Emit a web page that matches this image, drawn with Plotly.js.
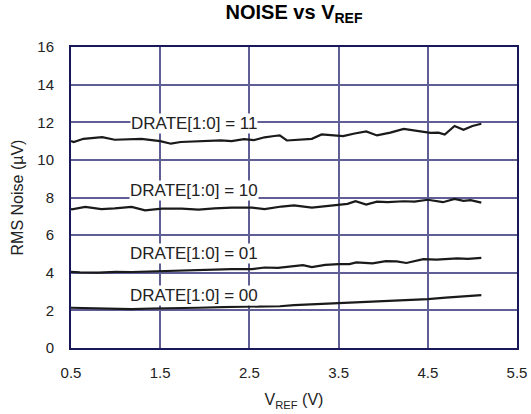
<!DOCTYPE html>
<html>
<head>
<meta charset="utf-8">
<script src="https://cdn.plot.ly/plotly-3.0.1.min.js"></script>
<style>html,body{margin:0;padding:0;background:#fff;}#chart{width:531px;height:414px;}</style>
</head>
<body>
<div id="chart"></div>
<script>
// Series 11
const x11 = [0.5,0.53,0.64,0.75,0.85,0.99,1.15,1.29,1.5,1.62,1.73,1.96,2.18,2.3,2.44,2.55,2.67,2.78,2.84,2.92,3.05,3.2,3.31,3.42,3.55,3.68,3.81,3.93,4.08,4.23,4.38,4.53,4.62,4.69,4.8,4.9,5.0,5.1];
const y11 = [11.0,10.95,11.12,11.15,11.21,11.07,11.08,11.12,11.0,10.86,10.95,11.0,11.04,11.0,11.1,11.05,11.2,11.27,11.3,11.03,11.08,11.12,11.35,11.32,11.26,11.4,11.51,11.3,11.45,11.65,11.55,11.44,11.45,11.35,11.8,11.6,11.8,11.92];
// Series 10
const x10 = [0.5,0.51,0.66,0.84,0.99,1.18,1.33,1.52,1.74,1.93,2.11,2.3,2.53,2.67,2.86,3.0,3.2,3.35,3.5,3.6,3.69,3.81,3.93,4.05,4.23,4.35,4.5,4.67,4.8,4.9,4.98,5.1];
const y10 = [7.4,7.37,7.5,7.38,7.42,7.5,7.32,7.41,7.41,7.36,7.42,7.46,7.46,7.38,7.52,7.58,7.46,7.52,7.6,7.66,7.8,7.62,7.78,7.75,7.8,7.78,7.88,7.75,7.93,7.82,7.86,7.73];
// Series 01
const x01 = [0.5,0.6,0.81,1.0,1.18,1.4,1.56,1.75,1.93,2.1,2.3,2.53,2.67,2.82,3.01,3.1,3.2,3.35,3.5,3.62,3.7,3.88,4.03,4.15,4.26,4.45,4.6,4.68,4.83,4.95,5.1];
const y01 = [4.05,4.02,4.01,4.05,4.04,4.07,4.1,4.1,4.13,4.15,4.19,4.19,4.28,4.26,4.37,4.4,4.3,4.42,4.46,4.46,4.55,4.5,4.62,4.6,4.52,4.72,4.7,4.72,4.76,4.74,4.79];
// Series 00
const x00 = [0.5,0.8,1.0,1.18,1.4,1.56,1.93,2.3,2.67,2.84,3.0,3.2,3.5,3.7,3.9,4.1,4.3,4.5,4.7,4.9,5.1];
const y00 = [2.14,2.12,2.1,2.07,2.1,2.1,2.14,2.19,2.22,2.22,2.28,2.32,2.38,2.42,2.45,2.5,2.55,2.6,2.68,2.74,2.81];

const labelTexts = ['DRATE[1:0] = 11','DRATE[1:0] = 10','DRATE[1:0] = 01','DRATE[1:0] = 00'];
const labelX = [1.88,1.88,1.88,1.88];
const labelY = [11.95,8.35,5.02,2.81];

const xTicks = [0.5,1.5,2.5,3.5,4.5,5.5];
const yTicks = [0,2,4,6,8,10,12,14,16];

const FONT = 'Liberation Sans, Arial, Helvetica, sans-serif';
const lineStyle = {color:'rgb(26,26,26)', width:2.2};
const traces = [[x11,y11],[x10,y10],[x01,y01],[x00,y00]].map(p => ({
  x:p[0], y:p[1], type:'scatter', mode:'lines', line:lineStyle, hoverinfo:'skip', showlegend:false
}));

const annotations = labelTexts.map((t,i)=>({
  x:labelX[i], y:labelY[i], xref:'x', yref:'y', text:t, showarrow:false,
  bgcolor:'white', borderpad:0, font:{family:FONT, size:17, color:'rgb(34,34,34)'}
}));

const layout = {
  width:531, height:414,
  margin:{l:71, r:14, t:47, b:66},
  paper_bgcolor:'#ffffff',
  font:{family:FONT, color:'rgb(34,34,34)'},
  title:{text:'<b>NOISE vs V<sub>REF</sub></b>', x:0.5, xref:'paper', y:0.988, yref:'container', yanchor:'top', font:{family:FONT, size:20, color:'black'}},
  xaxis:{range:[0.5,5.5], tickmode:'array', tickvals:xTicks, ticktext:xTicks.map(v=>v.toFixed(1)),
    showgrid:true, gridcolor:'rgb(95,95,150)', gridwidth:1.5, zeroline:false,
    showline:true, linecolor:'rgb(25,25,90)', linewidth:2, mirror:'all',
    ticks:'outside', ticklen:10, tickcolor:'rgba(255,255,255,0)',
    tickfont:{family:FONT, size:15, color:'rgb(34,34,34)'},
    title:{text:'V<sub>REF</sub> (V)', standoff:14, font:{family:FONT, size:16, color:'rgb(34,34,34)'}}},
  yaxis:{range:[0,16], tickmode:'array', tickvals:yTicks,
    showgrid:true, gridcolor:'rgb(95,95,150)', gridwidth:1.5, zeroline:false,
    showline:true, linecolor:'rgb(25,25,90)', linewidth:2, mirror:'all',
    ticks:'outside', ticklen:12, tickcolor:'rgba(255,255,255,0)',
    tickfont:{family:FONT, size:15, color:'rgb(34,34,34)'},
    title:{text:'RMS Noise (µV)', standoff:10, font:{family:FONT, size:16, color:'rgb(34,34,34)'}}},
  annotations:annotations
};

Plotly.newPlot('chart', traces, layout, {displayModeBar:false});
</script>
</body>
</html>
